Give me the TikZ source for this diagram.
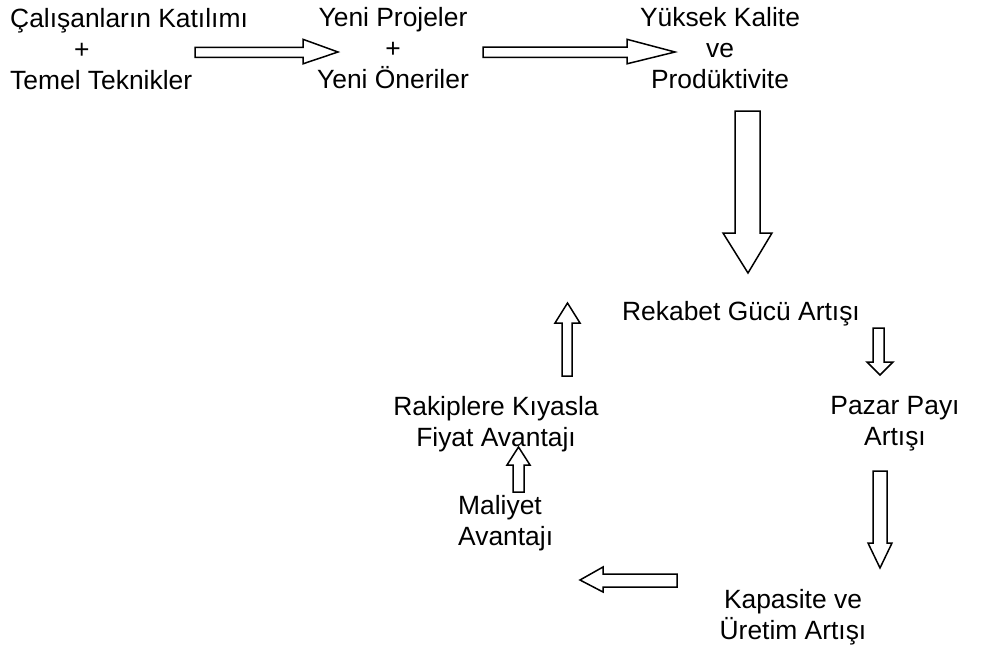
\documentclass[tikz,border=0pt]{standalone}
\usepackage{fontspec}
\setmainfont{Liberation Sans}
\begin{document}
\begin{tikzpicture}[x=1pt,y=-1pt,
  lbl/.style={font=\fontsize{26.4}{31.2}\selectfont, inner sep=0pt, align=center},
  barrow/.style={draw=black, line width=1.5pt, fill=white, line join=miter}]
\useasboundingbox (0,0) rectangle (983,646);
% texts
\node[lbl, align=left, anchor=west] (cal) at (10,49) {Çalışanların Katılımı\\\hspace*{64pt}+\\Temel Teknikler};
\node[lbl] (yeni) at (393,48) {Yeni Projeler\\+\\Yeni Öneriler};
\node[lbl] (yuk) at (720,48) {Yüksek Kalite\\ve\\Prodüktivite};
\node[lbl] (rek) at (741,314) {Rekabet Gücü Artışı};
\node[lbl] (pazar) at (895,424) {Pazar Payı\\Artışı};
\node[lbl] (rakip) at (496,424) {Rakiplere Kıyasla\\Fiyat Avantajı};
\node[lbl, align=left, anchor=west] (mal) at (458,523) {Maliyet\\Avantajı};
\node[lbl] (kap) at (793,617) {Kapasite ve\\Üretim Artışı};
% block arrows
% 1 right
\draw[barrow] (195,47.3) -- (303,47.3) -- (303,39.3) -- (338,52) -- (303,63.8) -- (303,57.3) -- (195,57.3) -- cycle;
% 2 right
\draw[barrow] (483,47) -- (627,47) -- (627,39.3) -- (675,52) -- (627,63.8) -- (627,57.3) -- (483,57.3) -- cycle;
% 3 down big
\draw[barrow] (735,111) -- (760,111) -- (760,233) -- (772,233) -- (748,273) -- (723,233) -- (735,233) -- cycle;
% 4 down small
\draw[barrow] (873,328) -- (884,328) -- (884,362) -- (893,362) -- (880,375) -- (867,362) -- (873,362) -- cycle;
% 5 up
\draw[barrow] (562,376) -- (572,376) -- (572,323) -- (580,323) -- (567.5,303) -- (555,323) -- (562,323) -- cycle;
% 6 up
\draw[barrow] (513,492) -- (524,492) -- (524,465) -- (530,465) -- (518.5,447) -- (507,465) -- (513,465) -- cycle;
% 7 left
\draw[barrow] (677,574) -- (603,574) -- (603,567) -- (580,580) -- (603,592) -- (603,587) -- (677,587) -- cycle;
% 8 down
\draw[barrow] (873,471) -- (887,471) -- (887,543) -- (892,543) -- (880,568) -- (868,543) -- (873,543) -- cycle;
\end{tikzpicture}
\end{document}
